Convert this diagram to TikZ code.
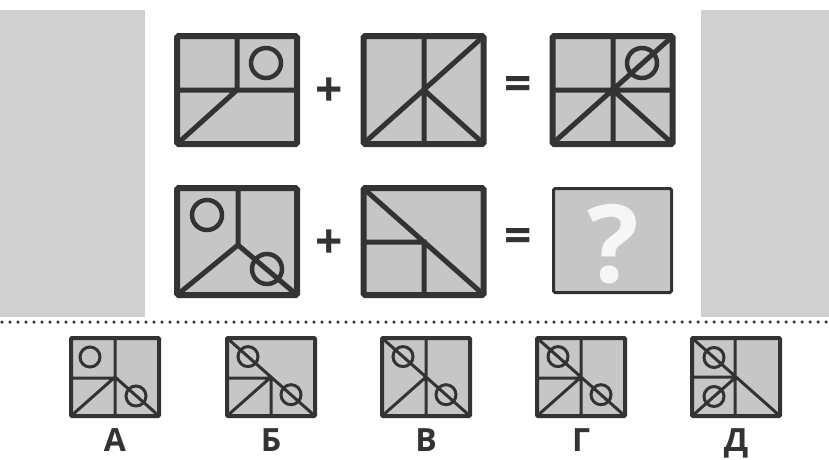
\documentclass[tikz,border=0pt]{standalone}
\usepackage{fontspec}
\setsansfont{Open Sans}
\usetikzlibrary{positioning}
\usepackage{xcolor}
\definecolor{pzInk}{HTML}{333333}
\definecolor{pzCell}{HTML}{C6C6C6}
\definecolor{pzPanel}{HTML}{D0D0D0}
\definecolor{pzMark}{HTML}{F6F6F6}
\tikzset{
  bigbox/.style={draw=pzInk, fill=pzCell, line width=6pt, rounded corners=1.5pt, minimum width=120pt, minimum height=108pt, inner sep=0pt, outer sep=0pt},
  smallbox/.style={bigbox, line width=4pt, minimum width=88pt, minimum height=78pt, rounded corners=1pt},
  seg/.style={draw=pzInk, line width=5pt},
  sseg/.style={draw=pzInk, line width=3pt},
  ring/.style={draw=pzInk, line width=4.5pt},
  sring/.style={draw=pzInk, line width=3pt},
  sign/.style={font=\sffamily\bfseries\fontsize{48}{48}\selectfont, text=pzInk, inner sep=0pt},
  lbl/.style={font=\sffamily\bfseries\fontsize{32}{32}\selectfont, text=pzInk, inner sep=0pt, outer sep=0pt},
}
\begin{document}
\begin{tikzpicture}[x=1pt, y=-1pt]
        \useasboundingbox (0,0) rectangle (829,459);
        % ---------- side panels ----------
        \fill[pzPanel] (0,10) rectangle (145,317);
        \fill[pzPanel] (701,10) rectangle (829,317);
        \draw[pzInk, line width=3.5pt, line cap=round, dash pattern=on 0pt off 8pt] (2,322) -- (829,322);
        % ---------- top row ----------
        \node[bigbox] (topA) at (237,90) {};
        \begin{scope}
            \clip (177,36) rectangle (297,144);
            \draw[seg] (237,36) -- (237,90) (177,90) -- (297,90) (177,144) -- (237,90);
        \end{scope}
        \draw[ring] (266,63) circle (15pt);
        \node[sign] (plusT) at (329,92) {+};
        \node[bigbox] (topB) at (423.5,90) {};
        \begin{scope}
            \clip (363,36) rectangle (484,144);
            \draw[seg] (424,36) -- (424,144) (363,144) -- (484,36) (424,90) -- (484,144);
        \end{scope}
        \node[sign] (eqT) at (518,88) {=};
        \node[bigbox] (topC) at (612.5,90) {};
        \begin{scope}
            \clip (552,36) rectangle (673,144);
            \draw[seg] (613,36) -- (613,144) (552,90) -- (673,90) (552,144) -- (673,36) (613,90) -- (673,144);
        \end{scope}
        \draw[ring] (642,63) circle (15pt);
        % ---------- bottom row ----------
        \node[bigbox, minimum height=107pt] (botA) at (237,241.5) {};
        \begin{scope}
            \clip (177,188) rectangle (297,295);
            \draw[seg] (238,188) -- (238,245) (177,295) -- (238,245) -- (297,295);
        \end{scope}
        \draw[ring] (207,215) circle (15pt);
        \draw[ring] (267,269) circle (15pt);
        \node[sign] (plusB) at (329,244) {+};
        \node[bigbox, minimum height=107pt] (botB) at (423.5,241.5) {};
        \begin{scope}
            \clip (363,188) rectangle (484,295);
            \draw[seg] (363,188) -- (484,295) (363,242) -- (424,242) -- (424,295);
        \end{scope}
        \node[sign] (eqB) at (518,240) {=};
        \node[bigbox, line width=3pt, minimum width=118pt, minimum height=104pt] (qbox) at (612.5,240.5) {};
        \node[font=\sffamily\bfseries\fontsize{108}{108}\selectfont, text=pzMark, inner sep=0pt] (qmark) at (613,244) {?};
        % ---------- answers ----------
        \begin{scope}[shift={(71,338)}]
            \node[smallbox] (boxA) at (44,39) {};
            \begin{scope}
                \clip (0,0) rectangle (88,78);
                \draw[sseg] (44,0) -- (44,78) (0,40) -- (44,40) (0,78) -- (44,39) -- (88,78);
            \end{scope}
            \draw[sring] (19,19) circle (10pt);
            \draw[sring] (65,58) circle (10pt);
            \node[lbl, below=13pt of boxA] (lblA) {А};
        \end{scope}
        \begin{scope}[shift={(227,338)}]
            \node[smallbox] (boxB) at (44,39) {};
            \begin{scope}
                \clip (0,0) rectangle (88,78);
                \draw[sseg] (0,0) -- (88,78) (0,40) -- (44,40) -- (44,78) (0,78) -- (44,39);
            \end{scope}
            \draw[sring] (21,18.6) circle (10pt);
            \draw[sring] (64,56.7) circle (10pt);
            \node[lbl, below=13pt of boxB] (lblB) {Б};
        \end{scope}
        \begin{scope}[shift={(382,338)}]
            \node[smallbox] (boxC) at (44,39) {};
            \begin{scope}
                \clip (0,0) rectangle (88,78);
                \draw[sseg] (44,0) -- (44,78) (0,0) -- (88,78) (0,78) -- (44,39);
            \end{scope}
            \draw[sring] (21,18.6) circle (10pt);
            \draw[sring] (64,56.7) circle (10pt);
            \node[lbl, below=13pt of boxC] (lblC) {В};
        \end{scope}
        \begin{scope}[shift={(537,338)}]
            \node[smallbox] (boxD) at (44,39) {};
            \begin{scope}
                \clip (0,0) rectangle (88,78);
                \draw[sseg] (44,0) -- (44,78) (0,40) -- (44,40) (0,0) -- (88,78) (0,78) -- (44,39);
            \end{scope}
            \draw[sring] (21,18.6) circle (10pt);
            \draw[sring] (64,56.7) circle (10pt);
            \node[lbl, below=13pt of boxD] (lblD) {Г};
        \end{scope}
        \begin{scope}[shift={(692,338)}]
            \node[smallbox] (boxE) at (44,39) {};
            \begin{scope}
                \clip (0,0) rectangle (88,78);
                \draw[sseg] (43,0) -- (43,78) (0,39) -- (43,39) (0,0) -- (88,78) (0,78) -- (44,39);
            \end{scope}
            \draw[sring] (22,19.5) circle (10pt);
            \draw[sring] (22,58.5) circle (10pt);
            \node[lbl, below=13pt of boxE] (lblE) {Д};
        \end{scope}
    \end{tikzpicture}
\end{document}
